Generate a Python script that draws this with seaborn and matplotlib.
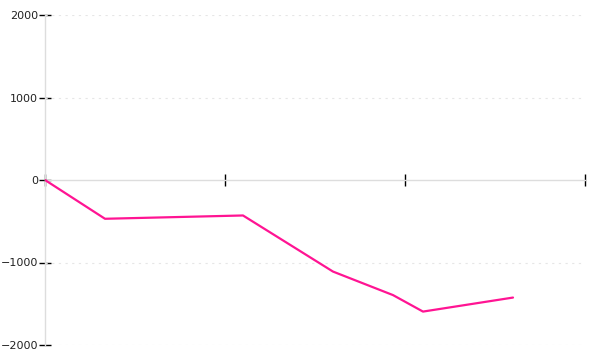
import matplotlib
matplotlib.use("Agg")
import matplotlib.pyplot as plt
import seaborn as sns
import pandas as pd

x_vals = [0, 10, 33, 48, 58, 63, 78]
y_vals = [0, -470, -430, -1110, -1395, -1595, -1425]
y_ticks = [-2000, -1000, 0, 1000, 2000]
x_ticks = [0, 30, 60, 90]

df = pd.DataFrame({"x": x_vals, "y": y_vals})

sns.set_style("white")
plt.rcParams["font.family"] = ["DejaVu Sans"]

fig = plt.figure(figsize=(6, 3.6), dpi=100)
ax = fig.add_axes([45 / 600, 15 / 360, 540 / 600, 330 / 360])

sns.lineplot(data=df, x="x", y="y", ax=ax, color="#ff1493", linewidth=1.6, zorder=5)

ax.set_xlim(0, 90)
ax.set_ylim(-2000, 2000)
ax.set_xticks(x_ticks)
ax.set_xticklabels([])
ax.set_yticks(y_ticks)
ax.set_yticklabels([str(v).replace("-", "\u2212") for v in y_ticks])
ax.set_xlabel("")
ax.set_ylabel("")

for v in y_ticks:
    if v != 0:
        ax.axhline(v, color="#e6e6e6", linewidth=0.8, linestyle=(0, (2, 4)), zorder=1)

ax.spines["top"].set_visible(False)
ax.spines["right"].set_visible(False)
ax.spines["bottom"].set_position(("data", 0))
ax.spines["bottom"].set_color("#dddddd")
ax.spines["left"].set_color("#dddddd")
ax.spines["bottom"].set_linewidth(1)
ax.spines["left"].set_linewidth(1)
ax.spines["bottom"].set_zorder(1)

ax.tick_params(axis="x", bottom=True, direction="inout", length=9, width=1, color="black")
ax.tick_params(axis="y", left=True, direction="inout", length=8, width=1, color="black",
               labelsize=8, labelcolor="#222222", pad=1)

fig.savefig("out.png", dpi=100)
